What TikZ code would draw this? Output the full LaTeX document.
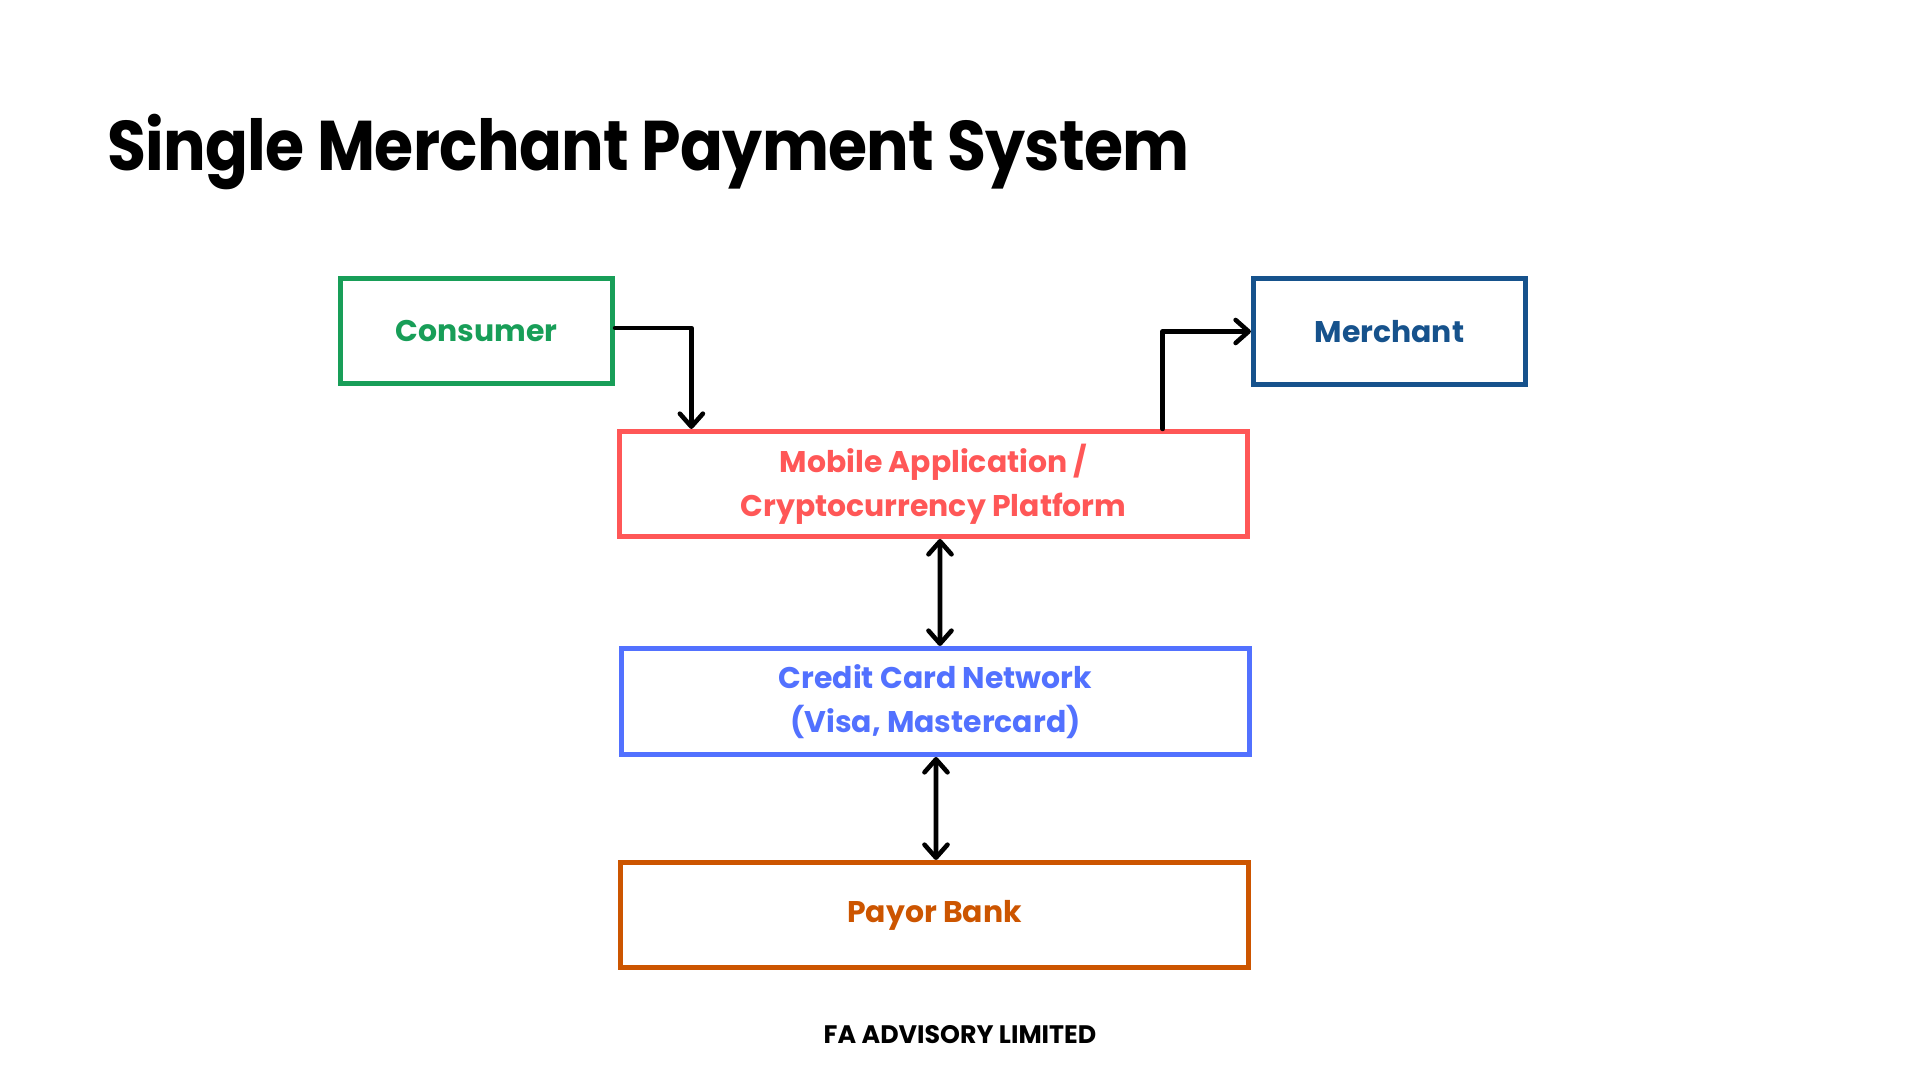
\documentclass[tikz,border=0pt]{standalone}
\usepackage{fontspec}
\setmainfont{Poppins}
\newfontfamily\titlefont[FakeStretch=0.9, LetterSpace=-1]{Poppins}
\usepackage{tikz}
\usetikzlibrary{arrows.meta, positioning}
\definecolor{consumercolor}{RGB}{24,158,88}
\definecolor{merchantcolor}{RGB}{22,82,140}
\definecolor{mobilecolor}{RGB}{255,87,87}
\definecolor{networkcolor}{RGB}{82,113,255}
\definecolor{bankcolor}{RGB}{204,85,0}

\begin{document}
\begin{tikzpicture}[
    x=0.01cm, y=-0.01cm,
    box/.style={draw, line width=1.42pt, minimum width=2.72cm, minimum height=1.05cm, align=center, font=\bfseries\fontsize{8.5}{12.5}\selectfont},
    wide/.style={box, minimum width=6.28cm},
    arrow/.style={-{Straight Barb[length=0.13cm, width=0.23cm, round]}, line width=1.3pt, line cap=round, line join=round},
    darrow/.style={{Straight Barb[length=0.13cm, width=0.23cm, round]}-{Straight Barb[length=0.13cm, width=0.23cm, round]}, line width=1.3pt, line cap=round}
]
    \useasboundingbox (0,0) rectangle (1920,1080);

    % Title
    \node[anchor=base west, font=\titlefont\bfseries\fontsize{20}{24}\selectfont] (title) at (95,171) {Single Merchant Payment System};

    % Parties
    \node[box, draw=consumercolor, text=consumercolor] (consumer) at (476.5,331) {Consumer};
    \node[box, draw=merchantcolor, text=merchantcolor] (merchant) at (1389.5,331.5) {Merchant};

    % Payment chain
    \node[wide, draw=mobilecolor, text=mobilecolor] (mobile) at (933.5,484) {Mobile Application /\\Cryptocurrency Platform};
    \node[wide, draw=networkcolor, text=networkcolor, minimum height=1.06cm] (network) at (935.5,701.5) {Credit Card Network\\(Visa, Mastercard)};
    \node[wide, draw=bankcolor, text=bankcolor] (bank) at (934.5,915) {Payor Bank};

    % Arrows
    \draw[arrow] ([yshift=0.03cm]consumer.east) -| ([xshift=0.745cm]mobile.north west);
    \draw[arrow] ([xshift=-0.875cm]mobile.north east) |- (merchant.west);
    \draw[darrow] ([xshift=0.065cm]mobile.south) -- ([xshift=0.045cm]network.north);
    \draw[darrow] ([xshift=0.005cm]network.south) -- ([xshift=0.015cm]bank.north);

    % Footer
    \node[font=\bfseries\fontsize{7.2}{9}\selectfont] (footer) at (960,1035) {FA ADVISORY LIMITED};
\end{tikzpicture}
\end{document}
